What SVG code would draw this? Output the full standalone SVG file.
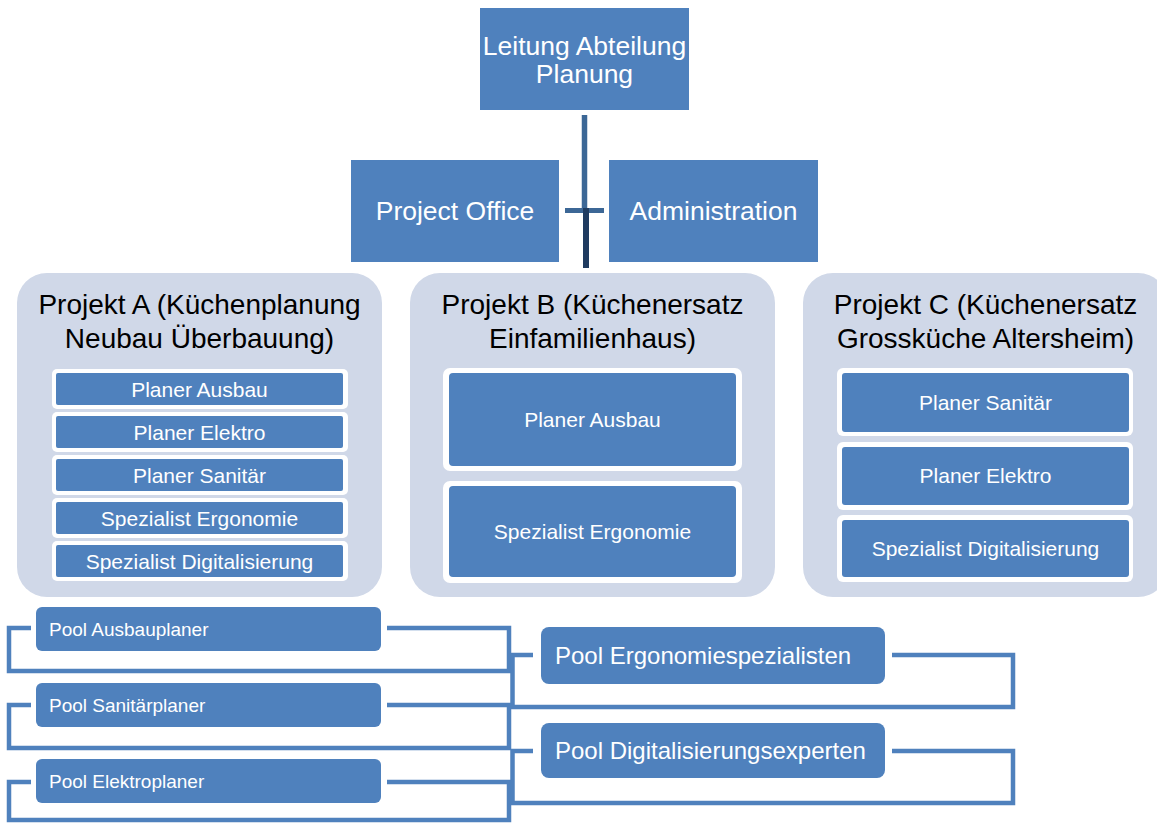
<svg xmlns="http://www.w3.org/2000/svg" width="1157" height="823" viewBox="0 0 1157 823">
<style>
.box{fill:#4f81bd}
.cont{fill:#d0d8e8}
.frame{fill:#ffffff}
.t{font-family:"Liberation Sans",Arial,sans-serif;fill:#ffffff}
.c{text-anchor:middle}
.title{font-family:"Liberation Sans",Arial,sans-serif;fill:#000000;font-size:28px;text-anchor:middle}
.in{font-size:21px}
.loop{fill:none;stroke:#4f81bd;stroke-width:4.5;stroke-linejoin:miter}
</style>
<rect width="1157" height="823" fill="#ffffff"/>
<g id="connectors">
  <line x1="584.5" y1="115" x2="584.5" y2="212" stroke="#3c6796" stroke-width="5.5"/>
  <line x1="565" y1="210.5" x2="604" y2="210.5" stroke="#3c6796" stroke-width="5"/>
  <line x1="586" y1="208" x2="586" y2="268" stroke="#1f3b60" stroke-width="6"/>
  <path class="loop" d="M31 628 H9 V671 H509 V628 H387"/>
  <path class="loop" d="M31 705 H9 V748 H509 V705 H387"/>
  <path class="loop" d="M31 782 H9 V820 H509 V782 H387"/>
  <path class="loop" d="M533 655 H512.5 V707 H1013 V655 H892"/>
  <path class="loop" d="M533 751 H512.5 V803 H1013 V751 H892"/>
</g>
<g id="leitung">
  <rect class="box" x="480" y="8" width="209" height="102"/>
  <text class="t c" x="584.5" y="55" font-size="26.5">Leitung Abteilung</text>
  <text class="t c" x="584.5" y="83" font-size="26.5">Planung</text>
</g>
<g id="project-office">
  <rect class="box" x="351" y="160" width="208" height="102"/>
  <text class="t c" x="455" y="220" font-size="26.5">Project Office</text>
</g>
<g id="administration">
  <rect class="box" x="609" y="160" width="209" height="102"/>
  <text class="t c" x="713.5" y="220" font-size="26.5">Administration</text>
</g>
<g id="projekt-a">
  <rect class="cont" x="17" y="273" width="365" height="324" rx="30"/>
  <text class="title" x="199.5" y="314">Projekt A (Küchenplanung</text>
  <text class="title" x="199.5" y="348">Neubau Überbauung)</text>
  <g id="a1"><rect class="frame" x="52" y="369" width="296" height="40" rx="5"/><rect class="box" x="56" y="373" width="287" height="32" rx="2"/><text class="t c in" x="199.5" y="396.5">Planer Ausbau</text></g>
  <g id="a2"><rect class="frame" x="52" y="412" width="296" height="40" rx="5"/><rect class="box" x="56" y="416" width="287" height="32" rx="2"/><text class="t c in" x="199.5" y="439.5">Planer Elektro</text></g>
  <g id="a3"><rect class="frame" x="52" y="455" width="296" height="40" rx="5"/><rect class="box" x="56" y="459" width="287" height="32" rx="2"/><text class="t c in" x="199.5" y="482.5">Planer Sanitär</text></g>
  <g id="a4"><rect class="frame" x="52" y="498" width="296" height="40" rx="5"/><rect class="box" x="56" y="502" width="287" height="32" rx="2"/><text class="t c in" x="199.5" y="525.5">Spezialist Ergonomie</text></g>
  <g id="a5"><rect class="frame" x="52" y="541" width="296" height="40" rx="5"/><rect class="box" x="56" y="545" width="287" height="32" rx="2"/><text class="t c in" x="199.5" y="568.5">Spezialist Digitalisierung</text></g>
</g>
<g id="projekt-b">
  <rect class="cont" x="410" y="273" width="365" height="324" rx="30"/>
  <text class="title" x="592.5" y="314">Projekt B (Küchenersatz</text>
  <text class="title" x="592.5" y="348">Einfamilienhaus)</text>
  <g id="b1"><rect class="frame" x="443" y="368" width="299" height="103" rx="7"/><rect class="box" x="449" y="373" width="287" height="93" rx="4"/><text class="t c in" x="592.5" y="427">Planer Ausbau</text></g>
  <g id="b2"><rect class="frame" x="443" y="481" width="299" height="102" rx="7"/><rect class="box" x="449" y="486" width="287" height="91" rx="4"/><text class="t c in" x="592.5" y="539">Spezialist Ergonomie</text></g>
</g>
<g id="projekt-c">
  <rect class="cont" x="803" y="273" width="365" height="324" rx="30"/>
  <text class="title" x="985.5" y="314">Projekt C (Küchenersatz</text>
  <text class="title" x="985.5" y="348">Grossküche Altersheim)</text>
  <g id="c1"><rect class="frame" x="837" y="368" width="296" height="68" rx="6"/><rect class="box" x="842" y="373" width="287" height="59" rx="3"/><text class="t c in" x="985.5" y="410">Planer Sanitär</text></g>
  <g id="c2"><rect class="frame" x="837" y="442" width="296" height="68" rx="6"/><rect class="box" x="842" y="447" width="287" height="58" rx="3"/><text class="t c in" x="985.5" y="483">Planer Elektro</text></g>
  <g id="c3"><rect class="frame" x="837" y="515" width="296" height="67" rx="6"/><rect class="box" x="842" y="520" width="287" height="57" rx="3"/><text class="t c in" x="985.5" y="556">Spezialist Digitalisierung</text></g>
</g>
<g id="pool-ausbauplaner">
  <rect class="box" x="36" y="607" width="345" height="44" rx="6"/>
  <text class="t" x="49" y="636" font-size="19">Pool Ausbauplaner</text>
</g>
<g id="pool-sanitaerplaner">
  <rect class="box" x="36" y="683" width="345" height="44" rx="6"/>
  <text class="t" x="49" y="712" font-size="19">Pool Sanitärplaner</text>
</g>
<g id="pool-elektroplaner">
  <rect class="box" x="36" y="759" width="345" height="44" rx="6"/>
  <text class="t" x="49" y="788" font-size="19">Pool Elektroplaner</text>
</g>
<g id="pool-ergonomiespezialisten">
  <rect class="box" x="541" y="627" width="344" height="57" rx="8"/>
  <text class="t" x="555" y="664" font-size="24">Pool Ergonomiespezialisten</text>
</g>
<g id="pool-digitalisierungsexperten">
  <rect class="box" x="541" y="723" width="344" height="55" rx="8"/>
  <text class="t" x="555" y="759" font-size="24">Pool Digitalisierungsexperten</text>
</g>
</svg>
